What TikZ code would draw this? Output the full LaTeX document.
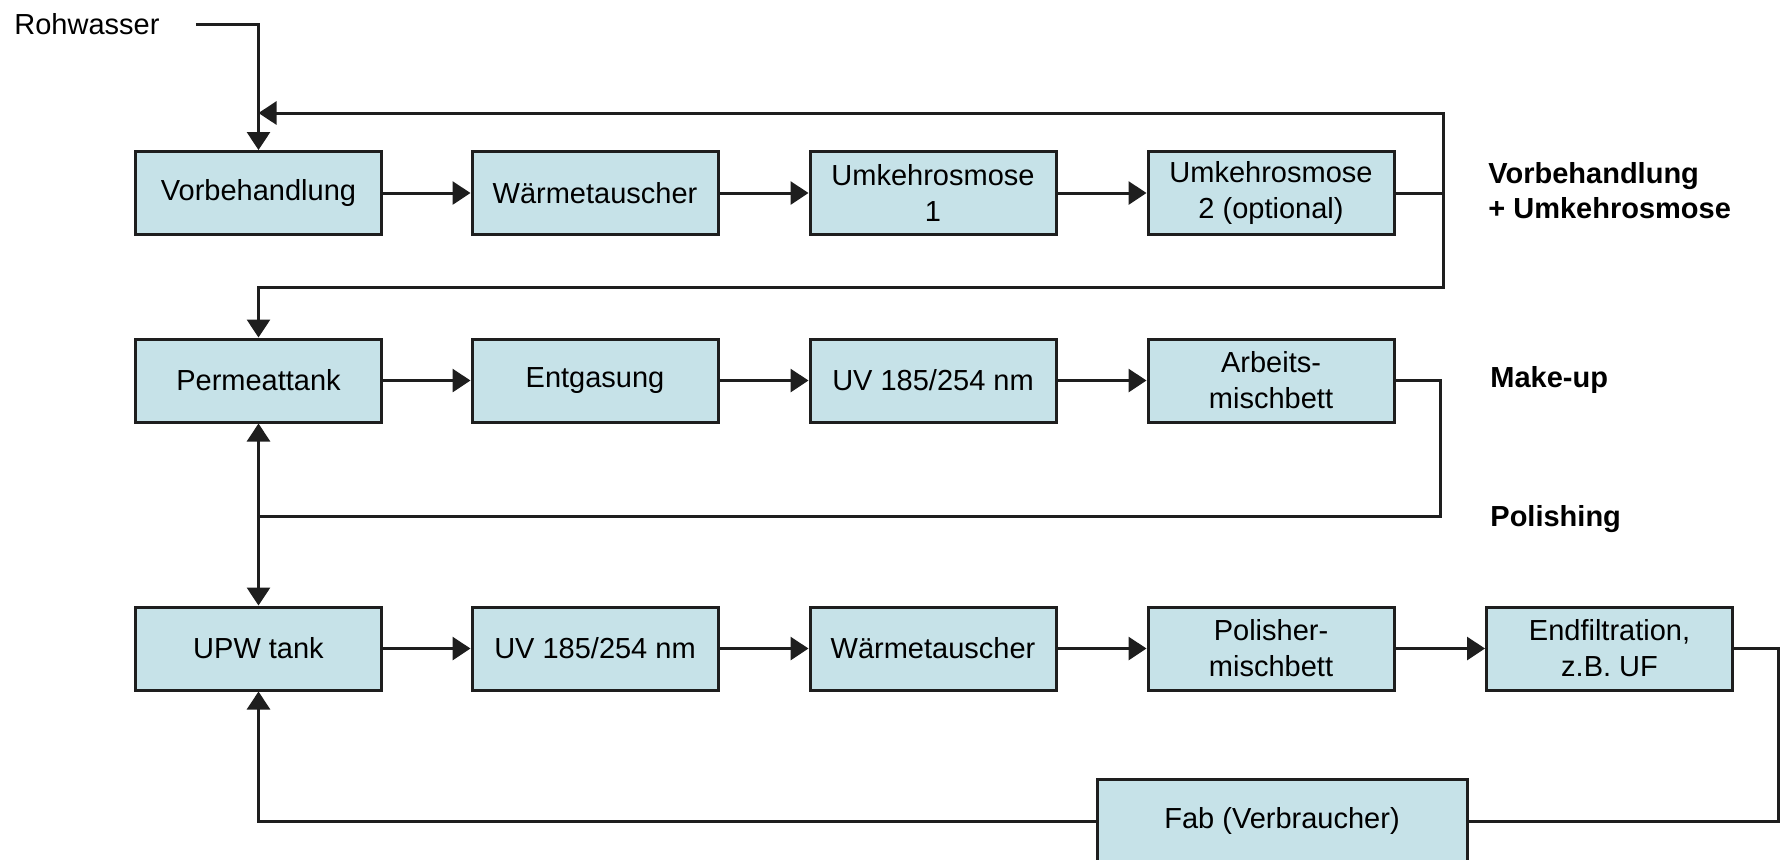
\documentclass[tikz,border=0pt]{standalone}
\usepackage{fontspec}
\setmainfont{Liberation Sans}
\usetikzlibrary{arrows.meta,positioning}
\definecolor{boxFill}{HTML}{C6E2E8}
\definecolor{lineC} {HTML}{1E1E1E}
\tikzset{
  >={Triangle[length=9pt,width=11.5pt]},
  stepBox/.style={draw=lineC,line width=1.5pt,fill=boxFill,
                  minimum width=123pt,minimum height=41.5pt,inner sep=2pt,
                  align=center,font=\fontsize{14.5}{18}\selectfont},
  flow/.style={->,line width=1.5pt,lineC},
  pipe/.style={line width=1.5pt,lineC},
  stageLabel/.style={anchor=west,align=left,inner sep=0pt,
                  font=\fontsize{14.5}{17.5}\selectfont\bfseries},
}
\begin{document}
\begin{tikzpicture}[x=0.5pt,y=-0.5pt]
\useasboundingbox (0,0) rectangle (1781,859);

% Vorbehandlung + Umkehrosmose
\node[stepBox] (vorb) at (258.5,193) {Vorbehandlung};
\node[stepBox] (wt1)  at (595,193)   {Wärmetauscher};
\node[stepBox] (ro1)  at (933,193)   {Umkehrosmose\\1};
\node[stepBox] (ro2)  at (1271,193)  {Umkehrosmose\\2 (optional)};

% Make-up
\node[stepBox] (perm)  at (258.5,380.5) {Permeattank};
\node[stepBox] (degas) at (595,380.5)   {Entgasung};
\node[stepBox] (uv1)   at (933,380.5)   {UV 185/254 nm};
\node[stepBox] (amb)   at (1271,380.5)  {Arbeits-\\mischbett};

% Polishing
\node[stepBox] (upw)  at (258.5,648.5)  {UPW tank};
\node[stepBox] (uv2)  at (595,648.5)    {UV 185/254 nm};
\node[stepBox] (wt2)  at (933,648.5)    {Wärmetauscher};
\node[stepBox] (pmb)  at (1271,648.5)   {Polisher-\\mischbett};
\node[stepBox] (endf) at (1609.5,648.5) {Endfiltration,\\z.B. UF};
\node[stepBox,minimum width=185pt] (fab) at (1282,821) {Fab (Verbraucher)};

\node[anchor=west,inner sep=0pt,font=\fontsize{14.5}{18}\selectfont]
  (raw) at (14,24) {Rohwasser};

\node[stageLabel] (lblRO)  at (1488,191) {Vorbehandlung\\+ Umkehrosmose};
\node[stageLabel] (lblMU)  at (1490,380) {Make-up};
\node[stageLabel] (lblPol) at (1490,519) {Polishing};

% straight chains
\foreach \a/\b in {vorb/wt1,wt1/ro1,ro1/ro2,
                   perm/degas,degas/uv1,uv1/amb,
                   upw/uv2,uv2/wt2,wt2/pmb,pmb/endf}
  \draw[flow] (\a) -- (\b);

% feed and return loops
\draw[flow] ([xshift=18pt]raw.east) -| (vorb.north);

\coordinate (roOut)  at (1443,193);
\coordinate (topRet) at (1443,113);
\coordinate (midRet) at (1443,287);
\draw[flow] (ro2.east) -- (roOut) -- (topRet) -- (vorb.north |- topRet);
\draw[flow] (roOut) -- (midRet) -| (perm.north);

\coordinate (ambOut) at (1440,380.5);
\coordinate (polJ)   at (258.5,516);
\draw[pipe] (amb.east) -- (ambOut) |- (polJ);
\draw[flow] (polJ) -- (perm.south);
\draw[flow] (polJ) -- (upw.north);

\coordinate (endOut) at (1778,648.5);
\draw[pipe] (endf.east) -- (endOut) |- (fab.east);
\draw[flow] (fab.west) -| (upw.south);

\end{tikzpicture}
\end{document}
